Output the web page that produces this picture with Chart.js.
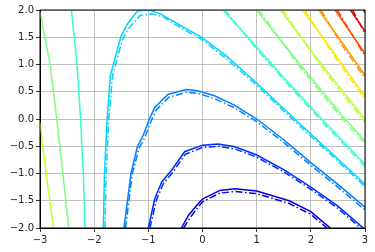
<!DOCTYPE html>
<html>
<head>
<meta charset="utf-8">
<script src="https://cdn.jsdelivr.net/npm/chart.js@4"></script>
<style>
  body { margin: 0; background: #fff; }
  canvas { display: block; }
</style>
</head>
<body>
<canvas id="chart" width="375" height="252"></canvas>
<script>
// tick positions
const xTicks = [-3, -2, -1, 0, 1, 2, 3];
const yTicks = [-2, -1.5, -1, -0.5, 0, 0.5, 1, 1.5, 2];

// contour levels (jet colours, low -> high)
const levelColors = ['#0000e0', '#002cff', '#0080ff', '#00d4ff', '#33ffcc', '#7aff7a',
                     '#bfff33', '#ffe600', '#ff9600', '#ff4a00', '#e00000', '#800000'];

// solid contours, [x, y]
const lvl0 = [[-0.39,-2.0],[-0.26,-1.77],[-0.12,-1.6],[0,-1.47],[0.32,-1.31],[0.6,-1.28],[1.0,-1.32],[1.6,-1.5],[2.0,-1.7],[2.36,-2.0]];
const lvl1 = [[-1.0,-2.0],[-0.88,-1.46],[-0.75,-1.15],[-0.57,-0.94],[-0.33,-0.6],[0,-0.48],[0.29,-0.46],[0.6,-0.51],[1.0,-0.66],[1.5,-0.93],[2.0,-1.25],[2.5,-1.6],[2.97,-2.0]];
const lvl2 = [[-1.45,-2.0],[-1.32,-1.0],[-1.2,-0.5],[-1.1,-0.31],[-0.98,0.0],[-0.88,0.21],[-0.64,0.45],[-0.3,0.54],[-0.09,0.52],[0.21,0.43],[0.58,0.26],[1.0,0.0],[1.5,-0.38],[2.0,-0.8],[2.5,-1.2],[3.0,-1.62]];
const lvl3 = [[-1.83,-2.0],[-1.81,-1.0],[-1.76,0.0],[-1.7,0.8],[-1.51,1.5],[-1.39,1.74],[-1.2,1.98],[-0.98,2.0],[-0.76,1.92],[-0.39,1.71],[0,1.49],[0.45,1.15],[1.0,0.66],[1.7,0.0],[2.3,-0.55],[3.0,-1.2]];
const lvl4a = [[-2.42,2.0],[-2.32,1.04],[-2.25,0.0],[-2.2,-0.99],[-2.17,-2.0]];
const lvl4b = [[0.38,2.0],[1.0,1.32],[1.6,0.65],[2.2,0.0],[3.0,-0.83]];
const lvl5a = [[-3.0,1.96],[-2.81,0.98],[-2.69,0.0],[-2.58,-0.99],[-2.47,-2.0]];
const lvl5b = [[1.0,2.0],[1.8,1.0],[2.63,0.0],[3.0,-0.4]];
const lvl6a = [[-3.0,-0.07],[-2.88,-1.05],[-2.75,-2.0]];
const lvl6b = [[1.44,2.0],[2.2,1.0],[3.0,-0.01]];
const lvl7 = [[1.85,2.0],[2.4,1.25],[3.0,0.41]];
const lvl8 = [[2.15,2.0],[2.55,1.44],[3.0,0.8]];
const lvl9 = [[2.45,2.0],[3.0,1.2]];
const lvl10 = [[2.73,2.0],[3.0,1.61]];
const lvl11 = [[2.97,2.0],[3.0,1.96]];

// dash-dot contours
const dash0 = [[-0.35,-2.0],[-0.22,-1.8],[-0.1,-1.64],[0,-1.52],[0.32,-1.36],[0.6,-1.33],[1.0,-1.37],[1.6,-1.55],[2.0,-1.75],[2.3,-2.0]];
const dash1 = [[-0.97,-2.0],[-0.85,-1.48],[-0.72,-1.18],[-0.55,-0.98],[-0.32,-0.65],[0,-0.52],[0.29,-0.5],[0.6,-0.55],[1.0,-0.7],[1.5,-0.97],[2.0,-1.29],[2.5,-1.64],[2.92,-2.0]];
const dash2 = [[-1.42,-2.0],[-1.3,-1.02],[-1.17,-0.53],[-1.07,-0.35],[-0.95,-0.04],[-0.85,0.17],[-0.62,0.4],[-0.3,0.49],[-0.09,0.47],[0.21,0.38],[0.58,0.21],[1.0,-0.05],[1.5,-0.43],[2.0,-0.85],[2.5,-1.25],[3.0,-1.67]];
const dash3 = [[-1.8,-2.0],[-1.78,-1.0],[-1.73,0.0],[-1.66,0.8],[-1.48,1.45],[-1.35,1.68],[-1.15,1.9],[-0.95,1.93],[-0.74,1.88],[-0.39,1.67],[0,1.45],[0.45,1.1],[1.0,0.62],[1.7,-0.04],[2.3,-0.59],[3.0,-1.24]];
const dash4 = [[0.42,2.0],[1.0,1.28],[1.6,0.61],[2.2,-0.04],[3.0,-0.87]];
const dash5 = [[1.04,2.0],[1.8,0.95],[2.63,-0.05],[3.0,-0.45]];
const dash6 = [[1.48,2.0],[2.2,0.95],[3.0,-0.06]];
const dash7 = [[1.89,2.0],[2.4,1.2],[3.0,0.36]];
const dash8 = [[2.19,2.0],[2.55,1.39],[3.0,0.75]];
const dash9 = [[2.49,2.0],[3.0,1.15]];
const dash10 = [[2.77,2.0],[3.0,1.57]];

const solidLines = [
  [lvl0, 0], [lvl1, 1], [lvl2, 2], [lvl3, 3], [lvl4a, 4], [lvl4b, 4], [lvl5a, 5], [lvl5b, 5],
  [lvl6a, 6], [lvl6b, 6], [lvl7, 7], [lvl8, 8], [lvl9, 9], [lvl10, 10], [lvl11, 11]
];
const dashLines = [
  [dash0, 0], [dash1, 1], [dash2, 2], [dash3, 3], [dash4, 4], [dash5, 5],
  [dash6, 6], [dash7, 7], [dash8, 8], [dash9, 9], [dash10, 10]
];

function toDataset(pts, lvl, dashed) {
  return {
    data: pts.map(p => ({ x: p[0], y: p[1] })),
    showLine: true,
    borderColor: levelColors[lvl],
    borderWidth: 1.5,
    borderDash: dashed ? [7, 2.5, 1.5, 2.5] : [],
    pointRadius: 0,
    tension: 0,
    fill: false
  };
}

const datasets = [];
solidLines.forEach(l => datasets.push(toDataset(l[0], l[1], false)));
dashLines.forEach(l => datasets.push(toDataset(l[0], l[1], true)));

const fmt = v => {
  const s = String(v);
  return s.replace('-', '\u2212');
};

// black frame around the axes
const frame = {
  id: 'frame',
  afterDatasetsDraw(chart) {
    const a = chart.chartArea;
    const c = chart.ctx;
    c.save();
    c.strokeStyle = '#000';
    c.lineWidth = 1;
    c.strokeRect(a.left, a.top, a.right - a.left, a.bottom - a.top);
    c.restore();
  }
};

Chart.defaults.font.family = 'DejaVu Sans';
Chart.defaults.font.size = 10;
Chart.defaults.color = '#222';

new Chart(document.getElementById('chart').getContext('2d'), {
  type: 'scatter',
  data: { datasets: datasets },
  options: {
    responsive: false,
    animation: false,
    layout: { padding: { left: 0, right: 10, top: 10, bottom: 0 } },
    plugins: { legend: { display: false }, tooltip: { enabled: false } },
    scales: {
      x: {
        type: 'linear',
        min: -3, max: 3,
        afterBuildTicks: s => { s.ticks = xTicks.map(v => ({ value: v })); },
        afterFit: s => { s.height = 24; },
        grid: { color: '#b0b0b0', lineWidth: 0.8, tickColor: '#000', tickLength: 4 },
        border: { color: '#000', width: 1 },
        ticks: { padding: 2, maxRotation: 0, callback: v => fmt(v) }
      },
      y: {
        type: 'linear',
        min: -2, max: 2,
        afterBuildTicks: s => { s.ticks = yTicks.map(v => ({ value: v })); },
        afterFit: s => { s.width = 40; },
        grid: { color: '#b0b0b0', lineWidth: 0.8, tickColor: '#000', tickLength: 4 },
        border: { color: '#000', width: 1 },
        ticks: { padding: 2, callback: v => fmt(v.toFixed(1)) }
      }
    }
  },
  plugins: [frame]
});
</script>
</body>
</html>
